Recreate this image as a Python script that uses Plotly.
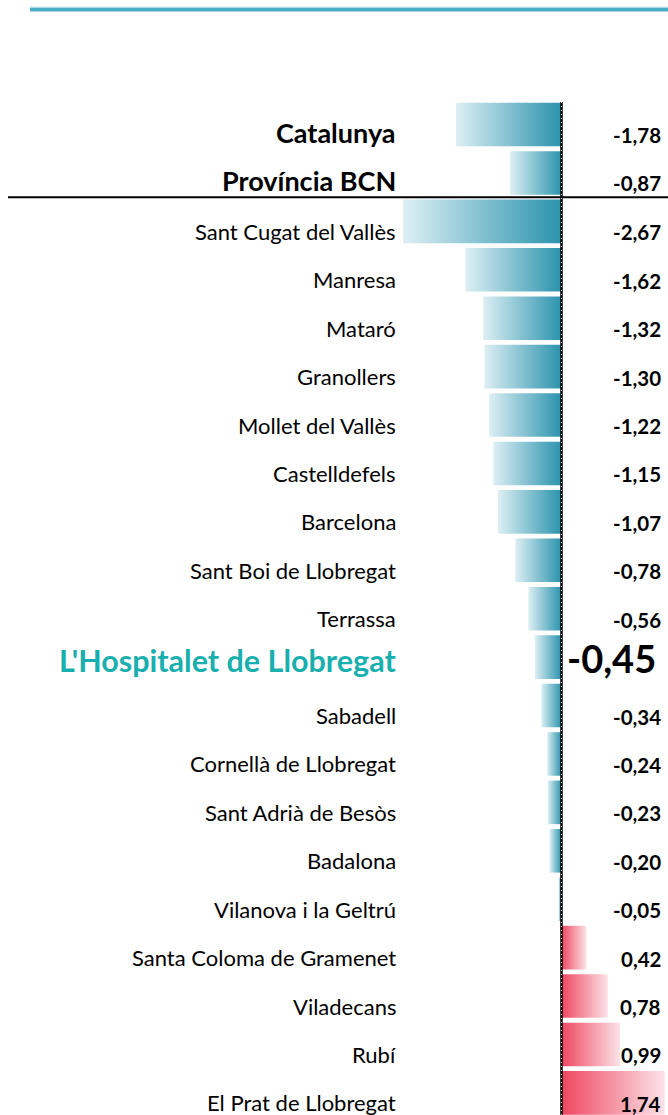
import plotly.graph_objects as go

# ---- data ----
categories = ["Catalunya", "Província BCN", "Sant Cugat del Vallès", "Manresa", "Mataró",
              "Granollers", "Mollet del Vallès", "Castelldefels", "Barcelona",
              "Sant Boi de Llobregat", "Terrassa", "L'Hospitalet de Llobregat", "Sabadell",
              "Cornellà de Llobregat", "Sant Adrià de Besòs", "Badalona",
              "Vilanova i la Geltrú", "Santa Coloma de Gramenet", "Viladecans", "Rubí",
              "El Prat de Llobregat"]
values = [-1.78, -0.87, -2.67, -1.62, -1.32, -1.30, -1.22, -1.15, -1.07, -0.78, -0.56,
          -0.45, -0.34, -0.24, -0.23, -0.20, -0.05, 0.42, 0.78, 0.99, 1.74]
aggregates = ["Catalunya", "Província BCN"]
highlight = "L'Hospitalet de Llobregat"

W, H = 668, 1115
TOP = 100
BAR_HALF = 0.45
NEG_SCALE = [[0, "#DDEFF4"], [1, "#2A93AD"]]
POS_SCALE = [[0, "#EF4660"], [1, "#FCE3E8"]]

fig = go.Figure()
for i, (cat, v) in enumerate(zip(categories, values)):
    fig.add_trace(go.Scatter(
        x=[0, v, v, 0, 0],
        y=[i - BAR_HALF, i - BAR_HALF, i + BAR_HALF, i + BAR_HALF, i - BAR_HALF],
        mode="lines", line=dict(width=0), fill="toself",
        fillgradient=dict(type="horizontal", colorscale=NEG_SCALE if v < 0 else POS_SCALE),
        hoverinfo="skip", showlegend=False))

annotations = []
LABEL_X = 398 / W
VALUE_X = 663 / W
for i, (cat, v) in enumerate(zip(categories, values)):
    txt = f"{v:.2f}".replace(".", ",")
    if cat in aggregates:
        lf = dict(family="Lato", size=27, color="#000000", weight="bold")
        vf = dict(family="Lato", size=20.5, color="#000000", weight="bold")
        ls, vs, vx = -8, -10, VALUE_X
    elif cat == highlight:
        lf = dict(family="Lato", size=30.5, color="#18AFAE", weight="bold")
        vf = dict(family="Lato", size=38, color="#000000", weight="bold")
        ls, vs, vx = -3, -1, 658 / W
    else:
        lf = dict(family="Lato", size=22, color="#000000")
        vf = dict(family="Lato", size=20.5, color="#000000", weight="bold")
        ls, vs, vx = -10, -11, VALUE_X
    annotations.append(dict(x=LABEL_X, xref="paper", y=i, yref="y", text=cat,
                            xanchor="right", yanchor="middle", yshift=ls,
                            showarrow=False, font=lf))
    annotations.append(dict(x=vx, xref="paper", y=i, yref="y", text=txt,
                            xanchor="right", yanchor="middle", yshift=vs,
                            showarrow=False, font=vf))

plot_h = H - TOP
pitch = 48.42
r0 = -(124.5 - TOP) / pitch
r1 = r0 + plot_h / pitch
zero_px = 561.5
scale = 59.3
xmin = -zero_px / scale
xmax = (W - zero_px) / scale

shapes = [
    # top accent line
    dict(type="line", xref="paper", yref="paper", x0=30 / W, x1=1,
         y0=1 + (TOP - 7.3) / plot_h, y1=1 + (TOP - 7.3) / plot_h,
         line=dict(color="#A9D7E3", width=1.2)),
    dict(type="line", xref="paper", yref="paper", x0=30 / W, x1=1,
         y0=1 + (TOP - 9.8) / plot_h, y1=1 + (TOP - 9.8) / plot_h,
         line=dict(color="#4BACC6", width=3.5)),
    # separator below aggregates
    dict(type="line", xref="paper", yref="y", x0=8 / W, x1=1, y0=1.5, y1=1.5,
         line=dict(color="#000000", width=2)),
    # zero line
    dict(type="line", xref="x", yref="paper", x0=0, x1=0, y0=0, y1=0.998,
         line=dict(color="#000000", width=2.5)),
    dict(type="line", xref="x", yref="paper", x0=0, x1=0, y0=0, y1=0.998,
         line=dict(color="#FFFFFF", width=0.8, dash="1px,3px")),
]

fig.update_layout(
    width=W, height=H,
    margin=dict(l=0, r=0, t=TOP, b=0, pad=0),
    paper_bgcolor="#FFFFFF", plot_bgcolor="#FFFFFF",
    xaxis=dict(range=[xmin, xmax], visible=False, fixedrange=True),
    yaxis=dict(range=[r1, r0], visible=False, fixedrange=True),
    annotations=annotations, shapes=shapes,
    showlegend=False,
)

fig.write_html(
    "out.html",
    config={"displayModeBar": False},
    post_script="document.body.style.margin='0';document.body.style.padding='0';"
                "document.body.style.overflow='hidden';"
                "document.documentElement.style.overflow='hidden';",
)
